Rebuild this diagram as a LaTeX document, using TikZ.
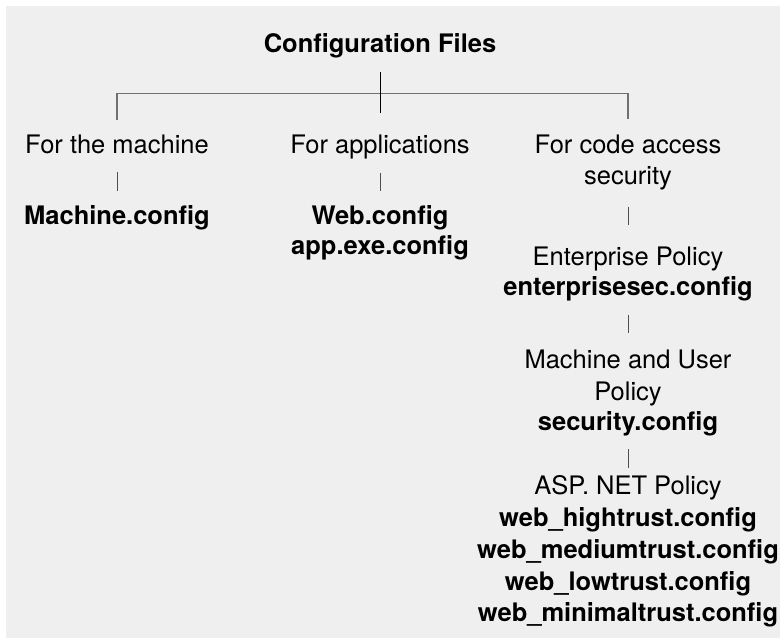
\documentclass[tikz,border=0pt]{standalone}
\usepackage{fontspec}
\setmainfont{TeX Gyre Heros}
\definecolor{bgc}{RGB}{239,239,239}
\definecolor{linec}{RGB}{112,112,112}
\definecolor{tickc}{RGB}{80,80,80}
\begin{document}
\begin{tikzpicture}[x=1pt,y=-1pt,
  lbl/.style={anchor=base,inner sep=0pt,font=\fontsize{25.5}{31}\selectfont},
  fname/.style={anchor=base,inner sep=0pt,font=\fontsize{25.5}{31}\selectfont\bfseries},
  bracket/.style={draw=linec,line width=1.7pt},
  stem/.style={draw=black,line width=1pt},
  tickline/.style={draw=tickc,line width=0.9pt}]
\useasboundingbox (0,0) rectangle (780,639);
\fill[bgc] (6,6) rectangle (780,638);
% texts
\node[fname] (title) at (380,53) {Configuration Files};
\node[lbl] (mach) at (117,154) {For the machine};
\node[lbl] (apps) at (380,154) {For applications};
\node[lbl] (cas1) at (628,154) {For code access};
\node[lbl] (cas2) at (628,185) {security};
\node[fname] (machcfg) at (117,225) {Machine.config};
\node[fname] (webcfg) at (380,225) {Web.config};
\node[fname] (appcfg) at (380,255) {app.exe.config};
\node[lbl] (ent) at (628,266) {Enterprise Policy};
\node[fname] (entcfg) at (628,296) {enterprisesec.config};
\node[lbl] (mu1) at (628,369) {Machine and User};
\node[lbl] (mu2) at (628,400) {Policy};
\node[fname] (seccfg) at (628,431) {security.config};
\node[lbl] (asp) at (628,494) {ASP. NET Policy};
\node[fname] (w1) at (628,526) {web\_hightrust.config};
\node[fname] (w2) at (628,558) {web\_mediumtrust.config};
\node[fname] (w3) at (628,590) {web\_lowtrust.config};
\node[fname] (w4) at (628,621) {web\_minimaltrust.config};
% bracket
\coordinate (bl) at (117,120);
\coordinate (bltop) at (117,93.5);
\coordinate (brtop) at (628,93.5);
\coordinate (br) at (628,119);
\draw[bracket] (bl) -- (bltop) -- (brtop) -- (br);
\coordinate (st1) at (380,72);
\coordinate (st2) at (380,113);
\draw[stem] (st1) -- (st2);
% ticks
\coordinate (ta1) at (117,172); \coordinate (ta2) at (117,191);
\coordinate (tb1) at (380,173); \coordinate (tb2) at (380,191);
\coordinate (tc1) at (628,207); \coordinate (tc2) at (628,225);
\coordinate (td1) at (628,315); \coordinate (td2) at (628,333);
\coordinate (te1) at (628,449); \coordinate (te2) at (628,468);
\draw[tickline] (ta1) -- (ta2);
\draw[tickline] (tb1) -- (tb2);
\draw[tickline] (tc1) -- (tc2);
\draw[tickline] (td1) -- (td2);
\draw[tickline] (te1) -- (te2);
\end{tikzpicture}
\end{document}
